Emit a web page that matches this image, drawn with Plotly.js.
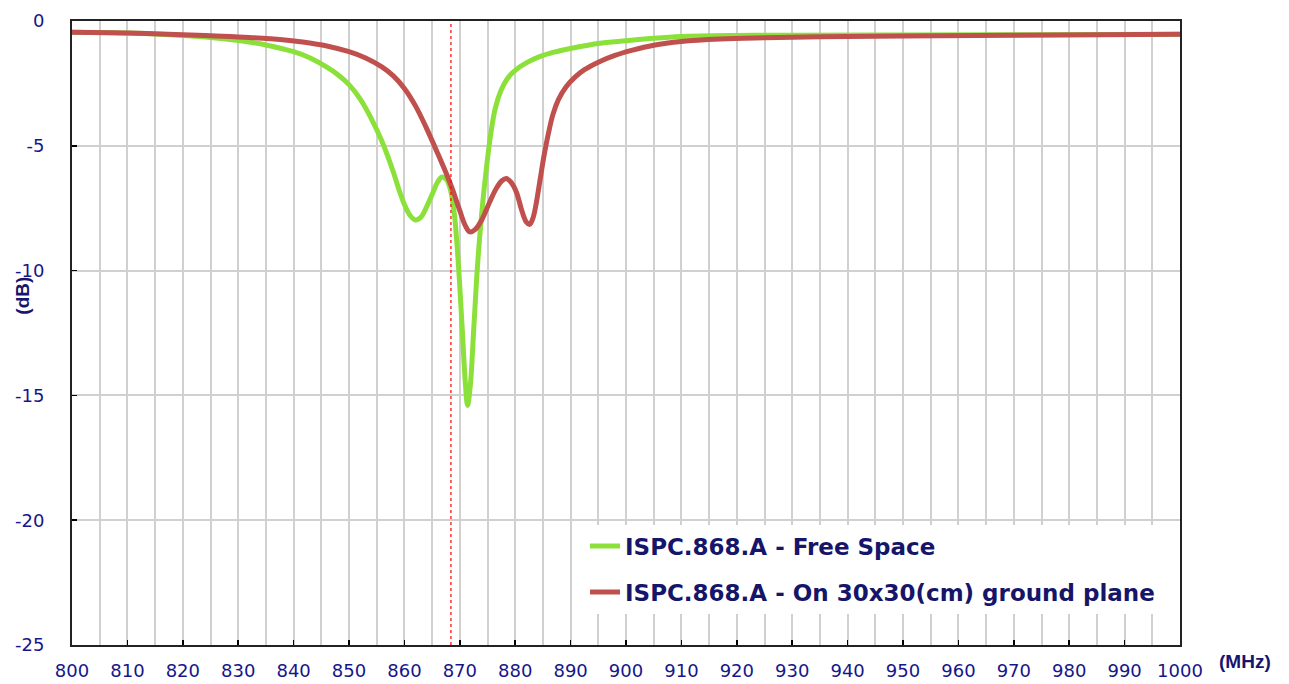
<!DOCTYPE html>
<html>
<head>
<meta charset="utf-8">
<script src="https://cdn.plot.ly/plotly-3.0.1.min.js"></script>
<style>html,body{margin:0;padding:0;background:#fff;}#chart{width:1289px;height:684px;}</style>
</head>
<body>
<div id="chart"></div>
<script>
// Free space series (MHz, dB)
const freqFree = [800,805,810,815,820,825,830,835,840,843,846,848,850,852,854,856,858,859,860,861,862,863,864,865,866,866.8,867.6,868.3,869,869.7,870.4,871,871.4,871.9,872.5,873.2,874,874.8,875.6,876.4,877.4,878.6,880,882,884.4,887,890,895,900,905,910,920,930,950,975,1000];
const dbFree   = [-0.45,-0.46,-0.48,-0.52,-0.58,-0.66,-0.78,-0.96,-1.23,-1.48,-1.85,-2.15,-2.55,-3.12,-3.90,-4.85,-6.05,-6.75,-7.35,-7.78,-7.97,-7.85,-7.45,-6.95,-6.45,-6.25,-6.35,-6.75,-7.70,-9.60,-12.2,-14.5,-15.4,-14.6,-12.4,-9.8,-7.6,-5.9,-4.5,-3.5,-2.8,-2.3,-1.98,-1.68,-1.43,-1.25,-1.10,-0.90,-0.79,-0.69,-0.62,-0.58,-0.57,-0.56,-0.55,-0.53];
// On 30x30 cm ground plane series
const freqGround = [800,810,820,826,832,838,842,846,850,853,856,858,860,862,864,866,868,869,870,871,871.8,872.8,874,875.3,876.6,877.6,878.4,879.2,880.2,881.2,882,882.6,883.2,883.8,884.5,885.2,886,886.8,887.8,889.2,890.8,892.5,895,898,901,905,910,917,925,935,950,970,1000];
const dbGround   = [-0.45,-0.48,-0.55,-0.60,-0.66,-0.75,-0.85,-1.00,-1.23,-1.48,-1.85,-2.20,-2.70,-3.40,-4.30,-5.30,-6.35,-6.95,-7.60,-8.20,-8.45,-8.35,-7.95,-7.30,-6.70,-6.40,-6.31,-6.45,-6.85,-7.60,-8.05,-8.15,-7.90,-7.30,-6.35,-5.40,-4.50,-3.75,-3.15,-2.63,-2.25,-1.95,-1.65,-1.38,-1.18,-0.97,-0.82,-0.72,-0.67,-0.63,-0.60,-0.57,-0.53];
const seriesNames = ["ISPC.868.A - Free Space", "ISPC.868.A - On 30x30(cm) ground plane"];
const markerFreq = 868.4;
const xTickVals = [800,810,820,830,840,850,860,870,880,890,900,910,920,930,940,950,960,970,980,990,1000];
const yTickVals = [0,-5,-10,-15,-20,-25];

const tickColor = '#16168a';
const fontFam = 'DejaVu Sans, Verdana, sans-serif';
const gridCol = '#d0d0d0';
const traces = [
  {x: freqFree, y: dbFree, mode: 'lines', name: seriesNames[0], legendgroup: 'a',
   line: {color: '#8BE03A', width: 5, shape: 'spline', smoothing: 1}},
  {x: freqGround, y: dbGround, mode: 'lines', name: seriesNames[1], legendgroup: 'b',
   line: {color: '#C0504D', width: 5, shape: 'spline', smoothing: 1}}
];
const layout = {
  width: 1289, height: 684,
  margin: {l: 72, r: 109, t: 21, b: 39},
  paper_bgcolor: '#fff', plot_bgcolor: '#fff',
  font: {family: fontFam, color: tickColor},
  showlegend: true,
  legend: {x: 0.463, y: 0.193, xanchor: 'left', yanchor: 'top', bgcolor: '#fff', borderwidth: 0,
    font: {size: 23, color: '#15156a', family: fontFam, weight: 'bold'},
    tracegroupgap: 13, itemwidth: 30},
  xaxis: {range: [800, 1000], tickvals: xTickVals, ticktext: xTickVals.map(String),
    showgrid: true, gridcolor: gridCol, gridwidth: 2,
    minor: {dtick: 5, tick0: 800, showgrid: true, gridcolor: gridCol, gridwidth: 2},
    ticks: 'inside', ticklen: 5, tickcolor: '#000', tickwidth: 1.5,
    showline: true, linecolor: '#222', linewidth: 2, mirror: true,
    tickfont: {size: 18, color: tickColor, family: fontFam}, ticklabelstandoff: 8, zeroline: false},
  yaxis: {range: [-25, 0], tickvals: yTickVals, ticktext: yTickVals.map(String),
    showgrid: true, gridcolor: gridCol, gridwidth: 2,
    ticks: 'inside', ticklen: 5, tickcolor: '#000', tickwidth: 1.5,
    showline: true, linecolor: '#222', linewidth: 2, mirror: true,
    tickfont: {size: 18, color: tickColor, family: fontFam}, ticklabelstandoff: 22, zeroline: false},
  shapes: [{type: 'line', xref: 'x', yref: 'paper', x0: markerFreq, x1: markerFreq, y0: 0, y1: 1,
    line: {color: '#ff0000', width: 1.2, dash: 'dot'}}],
  annotations: [
    {text: '(dB)', xref: 'paper', yref: 'paper', x: -0.045, y: 0.56, xanchor: 'center', yanchor: 'middle',
     textangle: -90, showarrow: false,
     font: {size: 19, color: '#16166e', weight: 'bold', family: 'Liberation Sans, Arial, sans-serif'}},
    {text: '(MHz)', xref: 'paper', yref: 'paper', x: 1.033, y: -0.006, xanchor: 'left', yanchor: 'top', showarrow: false,
     font: {size: 19, color: '#16166e', weight: 'bold', family: 'Liberation Sans, Arial, sans-serif'}}
  ]
};
Plotly.newPlot('chart', traces, layout, {displayModeBar: false, staticPlot: true});
</script>
</body>
</html>
